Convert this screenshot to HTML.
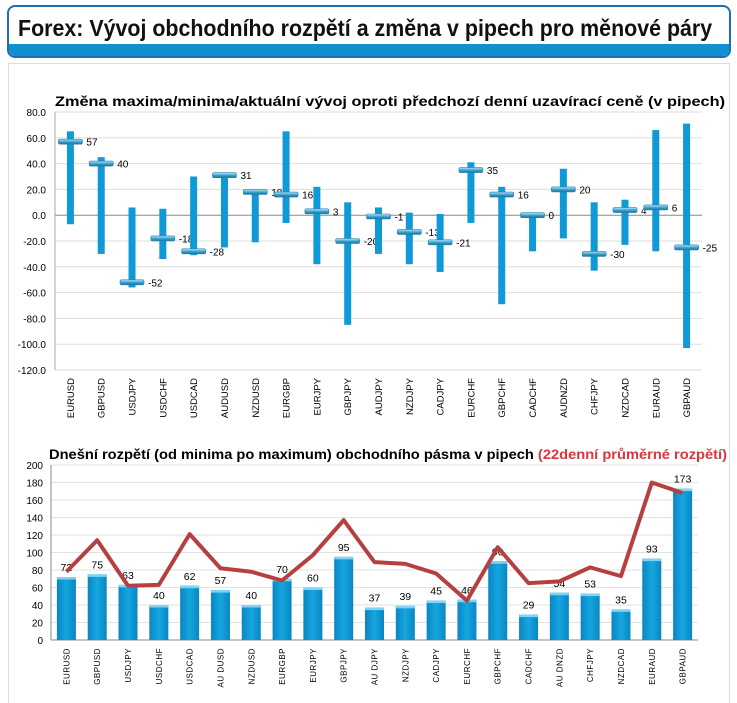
<!DOCTYPE html>
<html><head><meta charset="utf-8">
<style>
body{margin:0;width:737px;height:703px;background:#fff;font-family:"Liberation Sans",sans-serif;overflow:hidden;position:relative}
#hdr{position:absolute;left:7px;top:5px;width:724px;height:53px;border:2px solid #1f6fae;border-radius:8px;overflow:hidden;background:#fff;box-sizing:border-box}
#hdr .band{position:absolute;left:0;right:0;bottom:0;height:12px;background:#0f90d0}
#hdr .t{position:absolute;left:9px;top:8px;font-size:23px;font-weight:bold;transform:scaleX(0.93);transform-origin:left;white-space:nowrap;color:#111}
#panel{position:absolute;left:8px;top:63px;width:722px;height:640px;border:1px solid #ddd;border-bottom:none;box-sizing:border-box}
svg{position:absolute;left:0;top:0}
</style></head><body>
<div id="hdr"><div class="t">Forex: Vývoj obchodního rozpětí a změna v pipech pro měnové páry</div><div class="band"></div></div>
<div id="panel"></div>
<svg id="svg" width="737" height="703">
<defs><linearGradient id="mk" x1="0" y1="0" x2="0" y2="1"><stop offset="0" stop-color="#bfe6f7"/><stop offset="0.5" stop-color="#3aa7d6"/><stop offset="1" stop-color="#1b6f99"/></linearGradient>
<linearGradient id="bg" x1="0" y1="0" x2="1" y2="0"><stop offset="0" stop-color="#0a86c2"/><stop offset="0.5" stop-color="#15a6e0"/><stop offset="1" stop-color="#0a86c2"/></linearGradient></defs>
<text x="390" y="106" text-anchor="middle" font-size="14" font-weight="bold" textLength="670" lengthAdjust="spacingAndGlyphs">Změna maxima/minima/aktuální vývoj oproti předchozí denní uzavírací ceně (v pipech)</text>
<text x="49" y="459" font-size="14" font-weight="bold" textLength="678" lengthAdjust="spacingAndGlyphs">Dnešní rozpětí (od minima po maximum) obchodního pásma v pipech <tspan fill="#d9363e">(22denní průměrné rozpětí)</tspan></text>
</svg>
<script>
const pairs=["EURUSD","GBPUSD","USDJPY","USDCHF","USDCAD","AUDUSD","NZDUSD","EURGBP","EURJPY","GBPJPY","AUDJPY","NZDJPY","CADJPY","EURCHF","GBPCHF","CADCHF","AUDNZD","CHFJPY","NZDCAD","EURAUD","GBPAUD"];
const highs=[65,45,6,5,30,31,18,65,22,10,6,2,1,41,22,0,36,10,12,66,71];
const lows=[-7,-30,-56,-34,-31,-25,-21,-6,-38,-85,-30,-38,-44,-6,-69,-28,-18,-43,-23,-28,-103];
const current=[57,40,-52,-18,-28,31,18,16,3,-20,-1,-13,-21,35,16,0,20,-30,4,6,-25];
const topTicks=[80,60,40,20,0,-20,-40,-60,-80,-100,-120];
const ranges=[72,75,63,40,62,57,40,70,60,95,37,39,45,46,90,29,54,53,35,93,173];
const avgRanges=[78,114,62,63,121,82,78,68,97,137,89,87,76,45,106,65,67,83,73,180,168];
const botTicks=[0,20,40,60,80,100,120,140,160,180,200];
const botLabels=["EURUSD","GBPUSD","USDJPY","USDCHF","USDCAD","AU DUSD","NZDUSD","EURGBP","EURJPY","GBPJPY","AU DJPY","NZDJPY","CADJPY","EURCHF","GBPCHF","CADCHF","AU DNZD","CHFJPY","NZDCAD","EURAUD","GBPAUD"];
const svg=document.getElementById('svg');const NS='http://www.w3.org/2000/svg';
function mk(t,a,txt){const e=document.createElementNS(NS,t);for(const k in a)e.setAttribute(k,a[k]);if(txt!==undefined)e.textContent=txt;svg.appendChild(e);return e;}
// top chart
const T={l:55,r:702,t:112,b:370,min:-120,max:80};
const ty=v=>T.b-(v-T.min)/(T.max-T.min)*(T.b-T.t);
const tx=i=>T.l+(i+0.5)*(T.r-T.l)/pairs.length;
topTicks.forEach(v=>{
 const g=mk('line',{x1:T.l,x2:T.r,y1:ty(v),y2:ty(v),stroke:v===0?'#888':'#ddd','stroke-width':1});
 
 const t=mk('text',{x:T.l-9,y:ty(v)+4,'text-anchor':'end','font-size':10},v.toFixed(1));
 
});
let a=mk('line',{x1:T.l,x2:T.l,y1:T.t,y2:T.b,stroke:'#aaa'});
pairs.forEach((p,i)=>{
 const x=tx(i);
 const r=mk('rect',{x:x-3.5,y:ty(highs[i]),width:7,height:ty(lows[i])-ty(highs[i]),fill:'#0f99d6'});
 
 const m=mk('rect',{x:x-12,y:ty(current[i])-2.5,width:24,height:5,rx:1.5,fill:'url(#mk)',stroke:'#2b7fa8','stroke-width':0.6});
 
 const l=mk('text',{x:x+16,y:ty(current[i])+4,'font-size':10},String(current[i]));
 
 const c=mk('text',{x:0,y:0,'font-size':9.5,'text-anchor':'end',transform:`translate(${x+3.5},${T.b+8}) rotate(-90)`},p);
 
});
// bottom chart
const B={l:51,r:698,t:465,b:640,min:0,max:200};
const by=v=>B.b-(v-B.min)/(B.max-B.min)*(B.b-B.t);
const bx=i=>B.l+(i+0.5)*(B.r-B.l)/pairs.length;
botTicks.forEach(v=>{
 const g=mk('line',{x1:B.l,x2:B.r,y1:by(v),y2:by(v),stroke:'#e2e2e2'});
 
 const t=mk('text',{x:B.l-8,y:by(v)+4,'text-anchor':'end','font-size':10},String(v));
 
});
a=mk('line',{x1:B.l,x2:B.l,y1:B.t,y2:B.b,stroke:'#888'});
a=mk('line',{x1:B.l,x2:B.r,y1:B.b,y2:B.b,stroke:'#888'});
pairs.forEach((p,i)=>{
 const x=bx(i);
 const r=mk('rect',{x:x-9.5,y:by(ranges[i]),width:19,height:B.b-by(ranges[i]),fill:'url(#bg)'});
 
 const h=mk('rect',{x:x-9.5,y:by(ranges[i]),width:19,height:2.5,fill:'#7fd3f3'});
 
 const l=mk('text',{x:x,y:by(ranges[i])-6,'text-anchor':'middle','font-size':10.5},String(ranges[i]));
 
 const c=mk('text',{x:0,y:0,'font-size':8,'text-anchor':'end','letter-spacing':'0.5',transform:`translate(${x+3},${B.b+8}) rotate(-90)`},botLabels[i]);
 
});
const pts=avgRanges.map((v,i)=>bx(i)+','+by(v)).join(' ');
const pl=mk('polyline',{points:pts,fill:'none',stroke:'#b5403f','stroke-width':4,'stroke-linejoin':'round'});

</script>
</body></html>
